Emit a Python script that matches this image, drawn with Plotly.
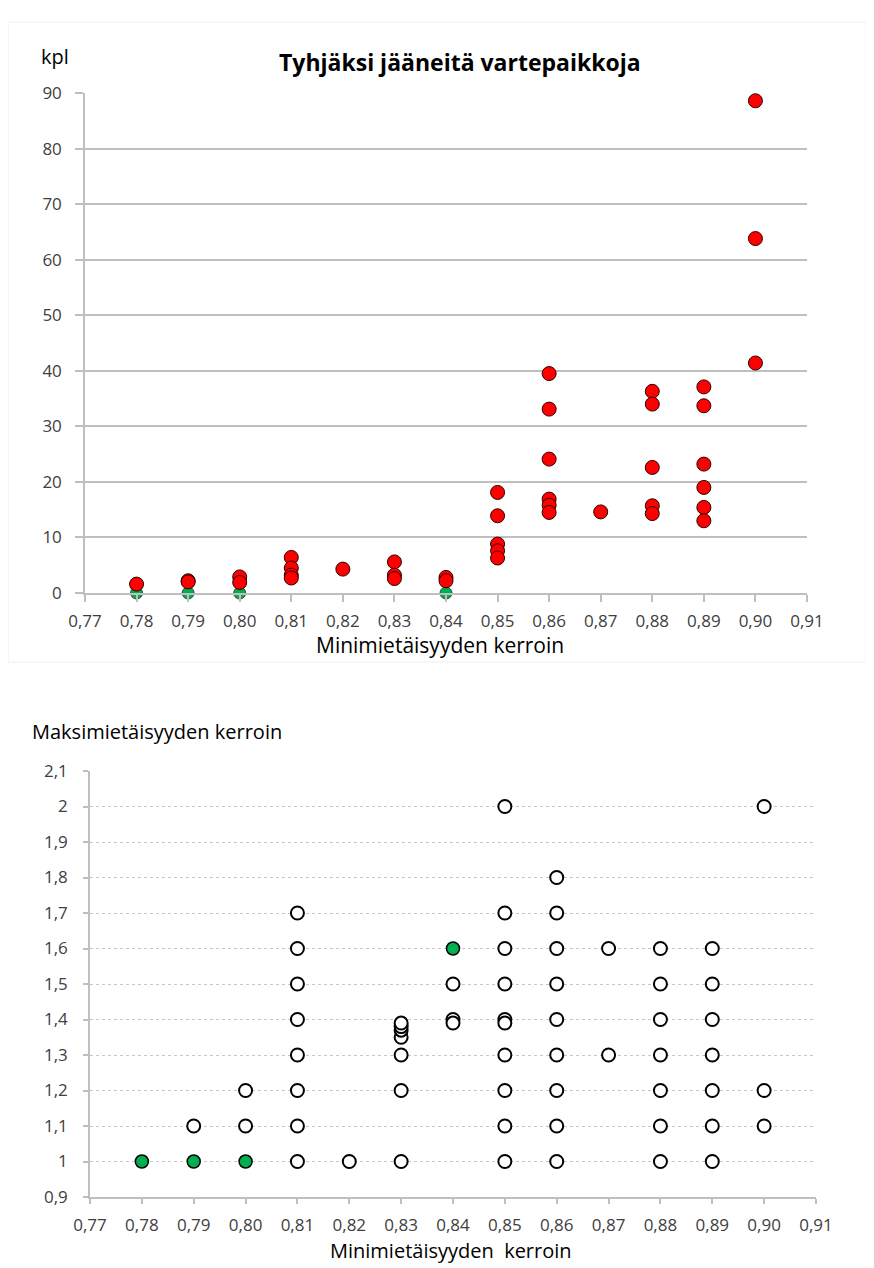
import plotly.graph_objects as go

# ---------------- data ----------------
# Top chart: "Tyhjäksi jääneitä vartepaikkoja" (kpl)
top_red_x = [0.78,
             0.79, 0.79,
             0.80, 0.80,
             0.81, 0.81, 0.81, 0.81,
             0.82,
             0.83, 0.83, 0.83,
             0.84, 0.84,
             0.85, 0.85, 0.85, 0.85, 0.85,
             0.86, 0.86, 0.86, 0.86, 0.86, 0.86,
             0.87,
             0.88, 0.88, 0.88, 0.88, 0.88,
             0.89, 0.89, 0.89, 0.89, 0.89, 0.89,
             0.90, 0.90, 0.90]
top_red_y = [1.6,
             2.2, 2.0,
             2.9, 1.9,
             6.4, 4.5, 3.2, 2.7,
             4.3,
             5.6, 3.2, 2.6,
             2.8, 2.2,
             18.1, 13.9, 8.8, 7.6, 6.3,
             39.5, 33.1, 24.1, 16.9, 15.8, 14.5,
             14.6,
             36.3, 34.0, 22.6, 15.7, 14.3,
             37.1, 33.7, 23.2, 19.0, 15.4, 13.0,
             88.6, 63.8, 41.4]
top_green_x = [0.78, 0.79, 0.80, 0.84]
top_green_y = [0, 0, 0, 0]

# Bottom chart: Maksimietäisyyden kerroin vs Minimietäisyyden kerroin
bot_white_x = [0.79,
               0.80, 0.80,
               0.81, 0.81, 0.81, 0.81, 0.81, 0.81, 0.81, 0.81,
               0.82,
               0.83, 0.83, 0.83, 0.83, 0.83, 0.83, 0.83,
               0.84, 0.84, 0.84,
               0.85, 0.85, 0.85, 0.85, 0.85, 0.85, 0.85, 0.85, 0.85, 0.85,
               0.86, 0.86, 0.86, 0.86, 0.86, 0.86, 0.86, 0.86, 0.86,
               0.87, 0.87,
               0.88, 0.88, 0.88, 0.88, 0.88, 0.88, 0.88,
               0.89, 0.89, 0.89, 0.89, 0.89, 0.89, 0.89,
               0.90, 0.90, 0.90]
bot_white_y = [1.1,
               1.1, 1.2,
               1.0, 1.1, 1.2, 1.3, 1.4, 1.5, 1.6, 1.7,
               1.0,
               1.0, 1.2, 1.3, 1.35, 1.37, 1.38, 1.39,
               1.5, 1.4, 1.39,
               2.0, 1.7, 1.6, 1.5, 1.4, 1.39, 1.3, 1.2, 1.1, 1.0,
               1.8, 1.7, 1.6, 1.5, 1.4, 1.3, 1.2, 1.1, 1.0,
               1.6, 1.3,
               1.6, 1.5, 1.4, 1.3, 1.2, 1.1, 1.0,
               1.6, 1.5, 1.4, 1.3, 1.2, 1.1, 1.0,
               2.0, 1.2, 1.1]
bot_green_x = [0.78, 0.79, 0.80, 0.84]
bot_green_y = [1.0, 1.0, 1.0, 1.6]

x_tickvals = [0.77, 0.78, 0.79, 0.80, 0.81, 0.82, 0.83, 0.84, 0.85, 0.86, 0.87, 0.88, 0.89, 0.90, 0.91]
x_ticktext = ["0,77", "0,78", "0,79", "0,80", "0,81", "0,82", "0,83", "0,84", "0,85", "0,86",
              "0,87", "0,88", "0,89", "0,90", "0,91"]
top_y_tickvals = [0, 10, 20, 30, 40, 50, 60, 70, 80, 90]
bot_y_tickvals = [0.9, 1.0, 1.1, 1.2, 1.3, 1.4, 1.5, 1.6, 1.7, 1.8, 1.9, 2.0, 2.1]
bot_y_ticktext = ["0,9", "1", "1,1", "1,2", "1,3", "1,4", "1,5", "1,6", "1,7", "1,8", "1,9", "2", "2,1"]

title_top = "Tyhjäksi jääneitä vartepaikkoja"
ylabel_top = "kpl"
xlabel_top = "Minimietäisyyden kerroin"
ylabel_bot = "Maksimietäisyyden kerroin"
xlabel_bot = "Minimietäisyyden  kerroin"

# ---------------- figure ----------------
OFF = 8                      # page body margin of the browser
W, H = 874 - OFF, 1268 - OFF
FONT = "'Open Sans', Lato, sans-serif"
TICKCOL = "#404040"


def px_x(p):
    return (p - OFF) / W


def px_y(p):
    return 1 - (p - OFF) / H


fig = go.Figure()

fig.add_trace(go.Scatter(x=top_green_x, y=top_green_y, mode="markers", xaxis="x", yaxis="y",
                         marker=dict(size=12, color="#00b050", line=dict(color="#404040", width=1)),
                         showlegend=False, cliponaxis=False))
fig.add_trace(go.Scatter(x=top_red_x, y=top_red_y, mode="markers", xaxis="x", yaxis="y",
                         marker=dict(size=14, color="#ff0000", line=dict(color="#2a0000", width=1)),
                         showlegend=False, cliponaxis=False))
fig.add_trace(go.Scatter(x=bot_white_x, y=bot_white_y, mode="markers", xaxis="x2", yaxis="y2",
                         marker=dict(size=13, color="#ffffff", line=dict(color="#000000", width=2)),
                         showlegend=False, cliponaxis=False))
fig.add_trace(go.Scatter(x=bot_green_x, y=bot_green_y, mode="markers", xaxis="x2", yaxis="y2",
                         marker=dict(size=13, color="#00b050", line=dict(color="#000000", width=1.5)),
                         showlegend=False, cliponaxis=False))

axis_common = dict(showline=True, linecolor="#bfbfbf", linewidth=1.5, ticks="outside",
                   tickcolor="#bfbfbf", tickwidth=1.5, automargin=False,
                   tickfont=dict(family=FONT, size=17, color=TICKCOL), zeroline=False)

fig.update_layout(
    width=W, height=H,
    margin=dict(l=0, r=0, t=0, b=0, autoexpand=False),
    paper_bgcolor="white", plot_bgcolor="white",
    font=dict(family=FONT),
    xaxis=dict(domain=[px_x(85), px_x(807)], range=[0.77, 0.91], anchor="y",
               tickvals=x_tickvals, ticktext=x_ticktext, showgrid=False,
               ticklen=7, ticklabelstandoff=5, **axis_common),
    yaxis=dict(domain=[px_y(593), px_y(93)], range=[0, 90], anchor="x",
               tickvals=top_y_tickvals, showgrid=True, gridcolor="#bfbfbf", gridwidth=1.5,
               ticklen=8, ticklabelstandoff=10, **axis_common),
    xaxis2=dict(domain=[px_x(90), px_x(816)], range=[0.77, 0.91], anchor="y2",
                tickvals=x_tickvals, ticktext=x_ticktext, showgrid=False,
                ticklen=5, ticklabelstandoff=7, **axis_common),
    yaxis2=dict(domain=[px_y(1197), px_y(771)], range=[0.9, 2.1], anchor="x2",
                tickvals=bot_y_tickvals, ticktext=bot_y_ticktext, showgrid=True,
                gridcolor="#c8c8c8", gridwidth=1, griddash="dot",
                ticklen=5, ticklabelstandoff=12, **axis_common),
)

ann = []
ann.append(dict(text="<b>" + title_top + "</b>", x=px_x(460), y=px_y(62), xref="paper", yref="paper",
                showarrow=False, font=dict(family=FONT, size=23, color="#000000"),
                xanchor="center", yanchor="middle"))
ann.append(dict(text=ylabel_top, x=px_x(39), y=px_y(57), xref="paper", yref="paper",
                showarrow=False, font=dict(family=FONT, size=20, color="#000000"),
                xanchor="left", yanchor="middle"))
ann.append(dict(text=xlabel_top, x=px_x(440), y=px_y(645), xref="paper", yref="paper",
                showarrow=False, font=dict(family=FONT, size=21, color="#000000"),
                xanchor="center", yanchor="middle"))
ann.append(dict(text=ylabel_bot, x=px_x(30), y=px_y(731), xref="paper", yref="paper",
                showarrow=False, font=dict(family=FONT, size=20, color="#000000"),
                xanchor="left", yanchor="middle"))
ann.append(dict(text=xlabel_bot, x=px_x(451), y=px_y(1250), xref="paper", yref="paper",
                showarrow=False, font=dict(family=FONT, size=20, color="#000000"),
                xanchor="center", yanchor="middle", borderpad=0))
fig.update_layout(annotations=ann)

# faint frame around the top chart
fig.add_shape(type="rect", xref="paper", yref="paper",
              x0=px_x(8), x1=px_x(866), y0=px_y(662), y1=px_y(22),
              line=dict(color="#f0f0f0", width=1), fillcolor="rgba(0,0,0,0)", layer="below")

fig.write_html("out.html")
